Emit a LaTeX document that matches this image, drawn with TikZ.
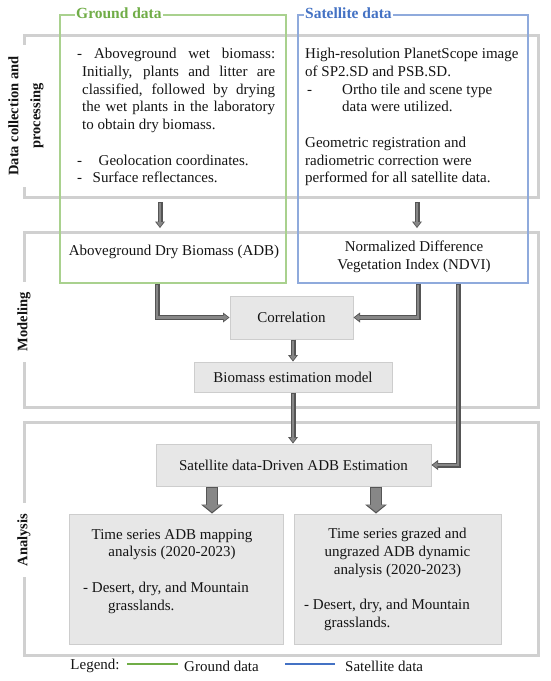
\documentclass[tikz,border=0pt]{standalone}
\usepackage{fontspec}
\setmainfont{Liberation Serif}
\usetikzlibrary{arrows.meta,calc}
\definecolor{framegray}{RGB}{208,208,208}
\definecolor{boxfill}{RGB}{231,231,231}
\definecolor{boxline}{RGB}{205,205,205}
\definecolor{groundline}{RGB}{169,209,142}
\definecolor{groundtitle}{RGB}{112,173,71}
\definecolor{satline}{RGB}{143,170,220}
\definecolor{sattitle}{RGB}{68,114,196}
\definecolor{arrdark}{RGB}{85,85,85}
\definecolor{arrmid}{RGB}{135,135,135}
\definecolor{txt}{RGB}{20,20,20}
\newcommand\bodyfont{\fontsize{15}{17.75}\selectfont}
\begin{document}
\begin{tikzpicture}[x=1pt,y=-1pt,
  every node/.style={text=txt},
  frame/.style={draw=framegray, line width=3pt, minimum width=514pt, inner sep=0pt},
  secl/.style={rotate=90, fill=white, font=\fontsize{14.5}{22}\selectfont\bfseries, align=center, inner xsep=11pt, inner ysep=1pt},
  databox/.style={line width=1.2pt, minimum height=268pt, inner sep=0pt},
  dtitle/.style={anchor=west, fill=white, font=\fontsize{15.5}{16}\selectfont\bfseries, inner xsep=1pt, inner ysep=2pt},
  body/.style={font=\bodyfont, inner sep=0pt},
  graybox/.style={draw=boxline, fill=boxfill, line width=1pt, font=\bodyfont, inner sep=0pt},
  arrout/.style={draw=arrdark, line width=5pt, line join=miter, -{Triangle[width=10pt,length=6.5pt,line width=0pt]}},
  arrin/.style={draw=arrmid, line width=2.6pt, line join=miter, shorten <=1pt, shorten >=1.3pt, -{Triangle[width=6.5pt,length=4.5pt,line width=0pt]}},
  bigout/.style={draw=arrdark, line width=12.5pt, -{Triangle[width=22pt,length=9pt,line width=0pt]}},
  bigin/.style={draw=arrmid, line width=10pt, shorten <=1pt, shorten >=1.6pt, -{Triangle[width=17.5pt,length=7pt,line width=0pt]}}
]
\useasboundingbox (0,0) rectangle (550,681);

% section frames
\node[frame, minimum height=162pt] (frame1) at (281,116) {};
\node[frame, minimum height=175pt] (frame2) at (281,319.5) {};
\node[frame, minimum height=233pt] (frame3) at (281,538.5) {};
\node[secl] (sec1) at (26,116) {Data collection and\\processing};
\node[secl] (sec2) at (24,322) {Modeling};
\node[secl] (sec3) at (24,540) {Analysis};

% data boxes
\node[databox, draw=groundline, minimum width=226pt] (gbox) at (173,149) {};
\node[databox, draw=satline, minimum width=230pt] (sbox) at (413,149) {};
\node[dtitle, text=groundtitle] (gtitle) at (75,13) {Ground data\hspace{12pt}};
\node[dtitle, text=sattitle] (stitle) at (304,13) {Satellite data\hspace{10pt}};

% ground data text
\node[body, anchor=north west, align=left] (gtext) at (77,48) {%
\makebox[198pt][s]{- Aboveground wet biomass:}\\
\hspace*{5pt}\makebox[193pt][s]{Initially, plants and litter are}\\
\hspace*{5pt}\makebox[193pt][s]{classified, followed by drying}\\
\hspace*{5pt}\makebox[193pt][s]{the wet plants in the laboratory}\\
\hspace*{5pt}to obtain dry biomass.\\[17.75pt]
-\hspace{1.1em}Geolocation coordinates.\\
-\hspace{0.7em}Surface reflectances.};

% satellite data text
\node[body, anchor=north west, align=left] (stext) at (305,48) {%
High-resolution PlanetScope image\\
of SP2.SD and PSB.SD.\\
\makebox[37pt][l]{\hspace{2pt}-}Ortho tile and scene type\\
\hspace*{37pt}data were utilized.\\[17.75pt]
Geometric registration and\\
radiometric correction were\\
performed for all satellite data.};

% modeling
\node[body] (adb) at (174,252) {Aboveground Dry Biomass (ADB)};
\node[body, align=center] (ndvi) at (414,256.5) {Normalized Difference\\Vegetation Index (NDVI)};
\node[graybox, minimum width=123pt, minimum height=43pt] (corr) at (291.5,317.5) {Correlation};
\node[graybox, minimum width=198pt, minimum height=30pt] (bem) at (293,377) {Biomass estimation model};

% analysis
\node[graybox, minimum width=275pt, minimum height=42pt] (sde) at (293.5,465) {Satellite data-Driven ADB Estimation};
\node[graybox, minimum width=214pt, minimum height=130pt] (an1) at (176,579) {};
\node[graybox, minimum width=207pt, minimum height=130pt] (an2) at (397.5,579) {};
\node[body, align=center, anchor=north] (an1t) at (172,529) {Time series ADB mapping\\analysis (2020-2023)};
\node[body, align=left, anchor=north west] (an1l) at (83,582) {- Desert, dry, and Mountain\\\hspace*{25pt}grasslands.};
\node[body, align=center, anchor=north] (an2t) at (397.5,528) {Time series grazed and\\ungrazed ADB dynamic\\analysis (2020-2023)};
\node[body, align=left, anchor=north west] (an2l) at (304,599) {- Desert, dry, and Mountain\\\hspace*{20pt}grasslands.};

% legend
\node[body] (leg) at (95,666) {Legend:};
\coordinate (lg1) at (127,664);
\coordinate (lg2) at (178,664);
\draw[groundtitle, line width=1.5pt] (lg1) -- (lg2);
\node[body, anchor=west] (legg) at (184,666) {Ground data};
\coordinate (ls1) at (285,664);
\coordinate (ls2) at (335,664);
\draw[sattitle, line width=1.5pt] (ls1) -- (ls2);
\node[body, anchor=west] (legs) at (345,666) {Satellite data};

% arrows
\coordinate (a1s) at (160,202);
\coordinate (a1e) at (160,228);
\coordinate (a2s) at (417,202);
\coordinate (a2e) at (417,228);
\foreach \s in {arrout,arrin}{
  \draw[\s] (a1s) -- (a1e);
  \draw[\s] (a2s) -- (a2e);
  \draw[\s] ([xshift=-16pt]gbox.south) |- (corr.west);
  \draw[\s] ([xshift=5pt]sbox.south) |- (corr.east);
  \draw[\s] (bem.north |- corr.south) -- (bem.north);
  \draw[\s] (bem.south) -- (sde.north -| bem.south);
  \draw[\s] ([xshift=45pt]sbox.south) |- (sde.east);
}
\foreach \s in {bigout,bigin}{
  \draw[\s] ([xshift=36pt]an1.north |- sde.south) -- ([xshift=36pt]an1.north);
  \draw[\s] ([xshift=-21.5pt]an2.north |- sde.south) -- ([xshift=-21.5pt]an2.north);
}
\end{tikzpicture}
\end{document}
